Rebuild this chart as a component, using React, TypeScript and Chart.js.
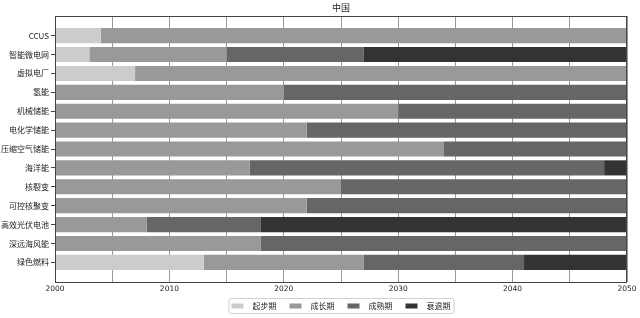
import React, { useEffect, useRef } from "react";
import { Chart, registerables } from "chart.js";

Chart.register(...registerables);

const title = "中国";
const categories = [
  "CCUS",
  "智能微电网",
  "虚拟电厂",
  "氢能",
  "机械储能",
  "电化学储能",
  "压缩空气储能",
  "海洋能",
  "核裂变",
  "可控核聚变",
  "高效光伏电池",
  "深远海风能",
  "绿色燃料",
];
const phaseNames = ["起步期", "成长期", "成熟期", "衰退期"];
const phaseColors = ["#cccccc", "#999999", "#666666", "#333333"];

type Span = [number, number] | null;
const startPhase: Span[] = [
  [2000, 2004], [2000, 2003], [2000, 2007], null, null, null, null,
  null, null, null, null, null, [2000, 2013],
];
const growthPhase: Span[] = [
  [2004, 2050], [2003, 2015], [2007, 2050], [2000, 2020], [2000, 2030], [2000, 2022], [2000, 2034],
  [2000, 2017], [2000, 2025], [2000, 2022], [2000, 2008], [2000, 2018], [2013, 2027],
];
const maturePhase: Span[] = [
  null, [2015, 2027], null, [2020, 2050], [2030, 2050], [2022, 2050], [2034, 2050],
  [2017, 2048], [2025, 2050], [2022, 2050], [2008, 2018], [2018, 2050], [2027, 2041],
];
const declinePhase: Span[] = [
  null, [2027, 2050], null, null, null, null, null,
  [2048, 2050], null, null, [2018, 2050], null, [2041, 2050],
];
const phases = [startPhase, growthPhase, maturePhase, declinePhase];
const xMin = 2000;
const xMax = 2050;

const cjk = "'Noto Sans CJK SC', 'DejaVu Sans', sans-serif";

const framePlugin = {
  id: "frameTitleLegend",
  afterDraw(chart: any) {
    const { ctx, chartArea } = chart;
    ctx.save();
    // frame
    ctx.strokeStyle = "#444444";
    ctx.lineWidth = 1;
    ctx.strokeRect(
      Math.round(chartArea.left) + 0.5,
      Math.round(chartArea.top) + 0.5,
      Math.round(chartArea.right - chartArea.left) - 1,
      Math.round(chartArea.bottom - chartArea.top)
    );
    // title
    const cx = (chartArea.left + chartArea.right) / 2;
    ctx.fillStyle = "#222222";
    ctx.font = `9px ${cjk}`;
    ctx.textAlign = "center";
    ctx.textBaseline = "middle";
    ctx.fillText(title, cx, 8);
    // legend
    ctx.font = `8px ${cjk}`;
    const sw = 12, gap = 9, itemGap = 13, pad = 2;
    const ds = chart.data.datasets;
    const widths = ds.map((d: any) => sw + gap + ctx.measureText(d.label).width);
    const total = widths.reduce((a: number, b: number) => a + b, 0) + itemGap * (ds.length - 1);
    const boxW = total + pad * 2 + 2;
    const boxX = cx - boxW / 2;
    const boxY = 298, boxH = 15;
    ctx.fillStyle = "#ffffff";
    ctx.strokeStyle = "#d0d0d0";
    ctx.beginPath();
    if ((ctx as any).roundRect) (ctx as any).roundRect(boxX + 0.5, boxY + 0.5, boxW, boxH, 2);
    else ctx.rect(boxX + 0.5, boxY + 0.5, boxW, boxH);
    ctx.fill();
    ctx.stroke();
    let x = boxX + pad + 1;
    const yc = boxY + boxH / 2 + 0.5;
    ds.forEach((d: any, i: number) => {
      ctx.fillStyle = d.backgroundColor;
      ctx.fillRect(x, yc - 2.5, sw, 5);
      ctx.fillStyle = "#222222";
      ctx.textAlign = "left";
      ctx.fillText(d.label, x + sw + gap, yc);
      x += widths[i] + itemGap;
    });
    ctx.restore();
  },
};

export default function App() {
  const ref = useRef<HTMLCanvasElement>(null);
  useEffect(() => {
    document.body.style.margin = "0";
    const datasets = phases.map((arr, p) => ({
      label: phaseNames[p],
      backgroundColor: phaseColors[p],
      borderWidth: 0,
      grouped: false,
      barPercentage: 0.8,
      categoryPercentage: 1.0,
      data: arr
        .map((s, i) => (s ? { x: [s[0], s[1]], y: i } : null))
        .filter((v) => v !== null),
    }));
    const chart = new Chart(ref.current as HTMLCanvasElement, {
      type: "bar",
      data: { datasets: datasets as any },
      options: {
        indexAxis: "y",
        animation: false,
        responsive: false,
        maintainAspectRatio: false,
        layout: { padding: { top: 16, right: 13, bottom: 20, left: 0 } },
        plugins: { legend: { display: false }, title: { display: false }, tooltip: { enabled: false } },
        scales: {
          x: {
            type: "linear",
            min: xMin,
            max: xMax,
            z: 1,
            offset: false,
            afterFit: (s: any) => { s.height = 16; },
            ticks: {
              stepSize: 5,
              autoSkip: false,
              maxRotation: 0,
              padding: 3,
              color: "#222222",
              font: { size: 7.5, family: "'DejaVu Sans', sans-serif" },
              callback: (v: any) => (Number(v) % 10 === 0 ? String(v) : ""),
            },
            grid: { color: "rgba(0,0,0,0.4)", drawTicks: false, lineWidth: 1, offset: false },
            border: { display: false },
          },
          y: {
            type: "linear",
            min: -1.04,
            max: categories.length - 1 + 1.04,
            reverse: true,
            offset: false,
            afterFit: (s: any) => { s.width = 55; },
            afterBuildTicks: (s: any) => { s.ticks = categories.map((_, i) => ({ value: i })); },
            ticks: {
              autoSkip: false,
              padding: 2,
              color: "#222222",
              font: { size: 8, family: cjk },
              callback: (v: any) => categories[Number(v)] ?? "",
            },
            grid: { drawOnChartArea: false, drawTicks: true, tickLength: 4, color: "#444444", offset: false },
            border: { display: false },
          },
        },
      },
      plugins: [framePlugin],
    });
    return () => chart.destroy();
  }, []);
  return <canvas ref={ref} width={640} height={318} style={{ display: "block" }} />;
}
